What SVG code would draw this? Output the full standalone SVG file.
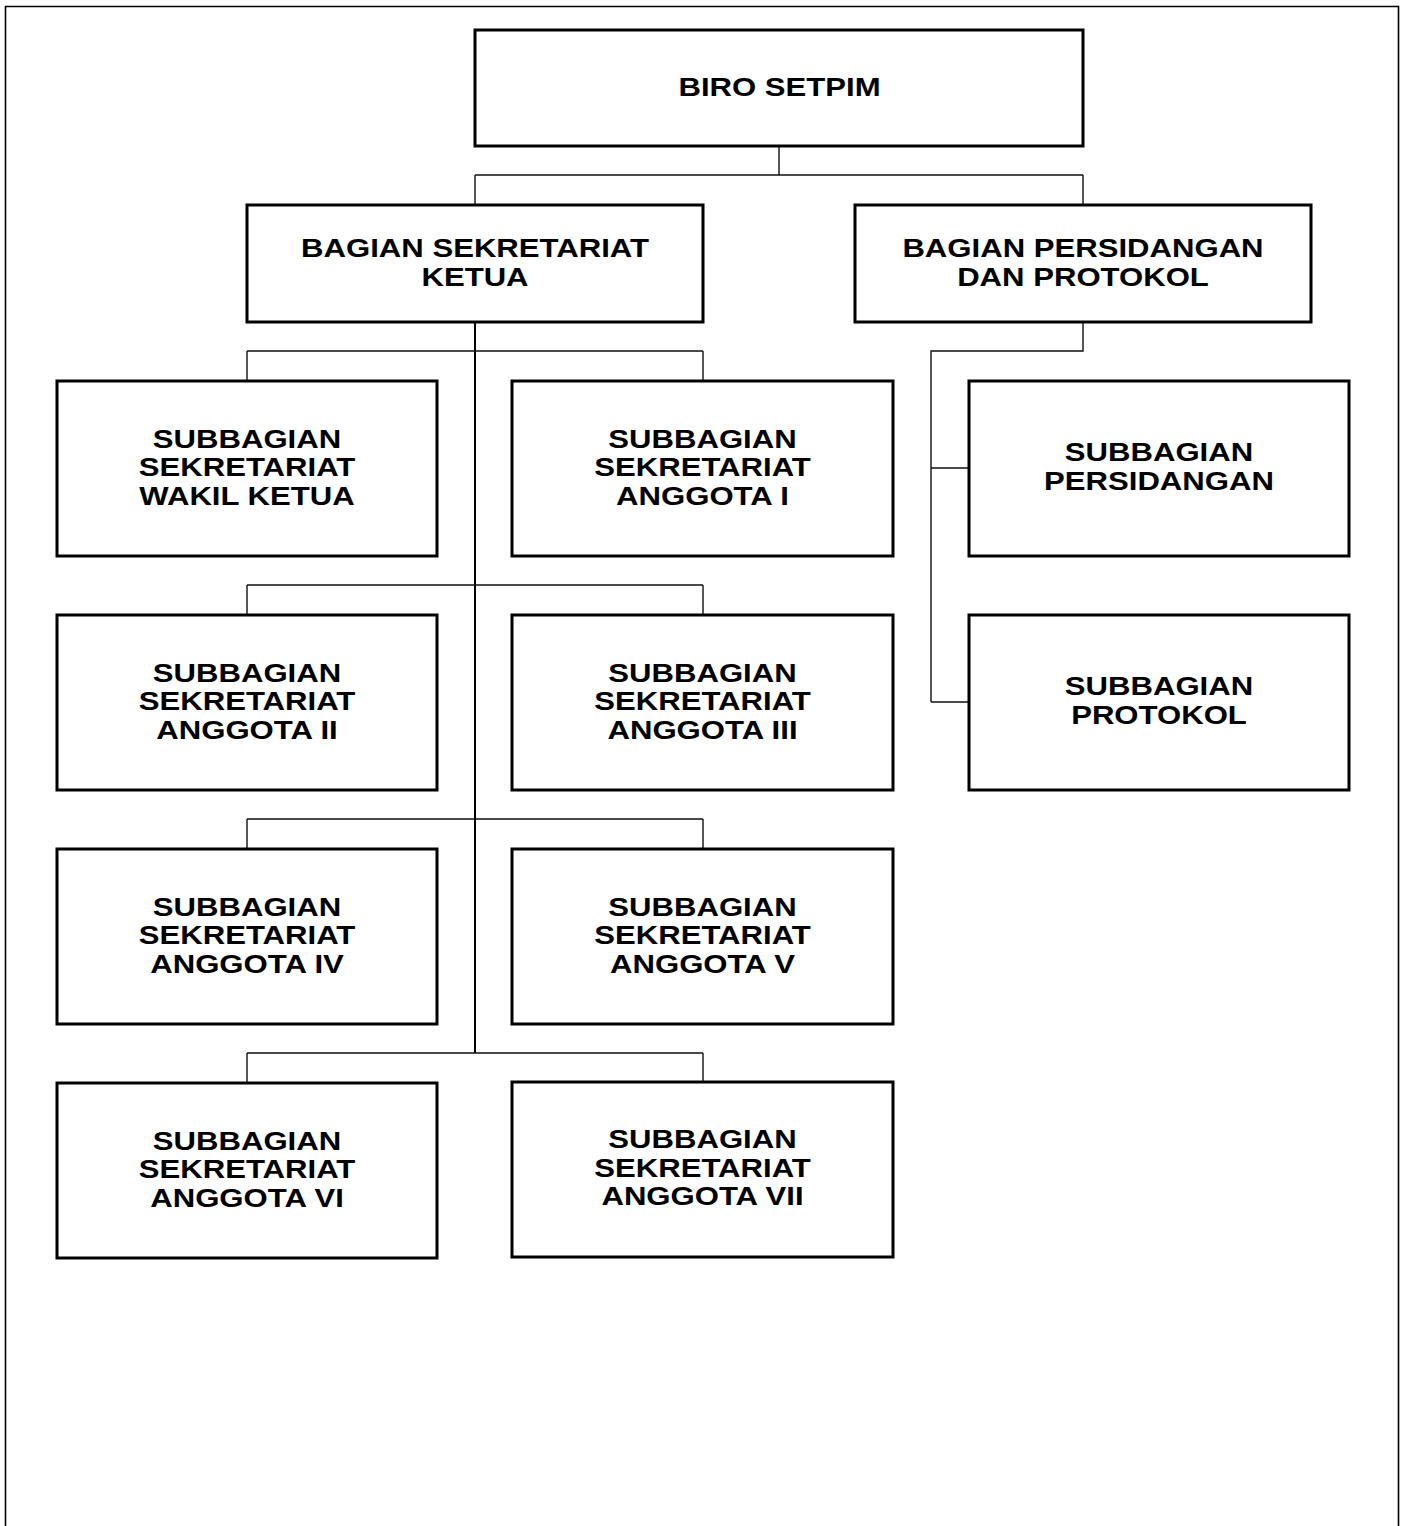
<svg xmlns="http://www.w3.org/2000/svg" width="1404" height="1526" viewBox="0 0 1404 1526">
<style>
.box{fill:#fff;stroke:#000;stroke-width:3}
.t{font-family:"Liberation Sans",Arial,sans-serif;font-weight:bold;font-size:25.5px;text-anchor:middle;fill:#000}
.c{fill:none;stroke:#111;stroke-width:1.4}
.spine{fill:none;stroke:#000;stroke-width:2}
</style>
<rect width="1404" height="1526" fill="#fff"/>
<path d="M5.5,1526 V6.5 H1398.5 V1526" fill="none" stroke="#000" stroke-width="1.6"/>
<g id="connectors">
<path class="c" d="M779,146 V175 M475,175 H1083 M475,175 V205 M1083,175 V205"/>
<path class="spine" d="M475,322 V1053"/>
<path class="c" d="M247,351 H703 M247,351 V381 M703,351 V381"/>
<path class="c" d="M247,585 H703 M247,585 V615 M703,585 V615"/>
<path class="c" d="M247,819 H703 M247,819 V849 M703,819 V849"/>
<path class="c" d="M247,1053 H703 M247,1053 V1083 M703,1053 V1083"/>
<path class="c" d="M1083,322 V351 H931 V702 M931,468 H969 M931,702 H969"/>
</g>
<g id="biro"><rect class="box" x="475" y="30" width="608" height="116"/><text class="t" transform="translate(779.5,95.5) scale(1.22,1)">BIRO SETPIM</text></g>
<g id="bagian-sekretariat"><rect class="box" x="247" y="205" width="456" height="117"/><text class="t" transform="translate(475,257) scale(1.22,1)">BAGIAN SEKRETARIAT<tspan x="0" dy="28.75">KETUA</tspan></text></g>
<g id="bagian-persidangan"><rect class="box" x="855" y="205" width="456" height="117"/><text class="t" transform="translate(1083,257) scale(1.22,1)">BAGIAN PERSIDANGAN<tspan x="0" dy="28.75">DAN PROTOKOL</tspan></text></g>
<g id="sub-wakil"><rect class="box" x="57" y="381" width="380" height="175"/><text class="t" transform="translate(247,447.5) scale(1.22,1)">SUBBAGIAN<tspan x="0" dy="28.75">SEKRETARIAT</tspan><tspan x="0" dy="28.75">WAKIL KETUA</tspan></text></g>
<g id="sub-anggota1"><rect class="box" x="512" y="381" width="381" height="175"/><text class="t" transform="translate(702.5,447.5) scale(1.22,1)">SUBBAGIAN<tspan x="0" dy="28.75">SEKRETARIAT</tspan><tspan x="0" dy="28.75">ANGGOTA I</tspan></text></g>
<g id="sub-persidangan"><rect class="box" x="969" y="381" width="380" height="175"/><text class="t" transform="translate(1159,461) scale(1.22,1)">SUBBAGIAN<tspan x="0" dy="28.75">PERSIDANGAN</tspan></text></g>
<g id="sub-anggota2"><rect class="box" x="57" y="615" width="380" height="175"/><text class="t" transform="translate(247,681.5) scale(1.22,1)">SUBBAGIAN<tspan x="0" dy="28.75">SEKRETARIAT</tspan><tspan x="0" dy="28.75">ANGGOTA II</tspan></text></g>
<g id="sub-anggota3"><rect class="box" x="512" y="615" width="381" height="175"/><text class="t" transform="translate(702.5,681.5) scale(1.22,1)">SUBBAGIAN<tspan x="0" dy="28.75">SEKRETARIAT</tspan><tspan x="0" dy="28.75">ANGGOTA III</tspan></text></g>
<g id="sub-protokol"><rect class="box" x="969" y="615" width="380" height="175"/><text class="t" transform="translate(1159,695) scale(1.22,1)">SUBBAGIAN<tspan x="0" dy="28.75">PROTOKOL</tspan></text></g>
<g id="sub-anggota4"><rect class="box" x="57" y="849" width="380" height="175"/><text class="t" transform="translate(247,915.5) scale(1.22,1)">SUBBAGIAN<tspan x="0" dy="28.75">SEKRETARIAT</tspan><tspan x="0" dy="28.75">ANGGOTA IV</tspan></text></g>
<g id="sub-anggota5"><rect class="box" x="512" y="849" width="381" height="175"/><text class="t" transform="translate(702.5,915.5) scale(1.22,1)">SUBBAGIAN<tspan x="0" dy="28.75">SEKRETARIAT</tspan><tspan x="0" dy="28.75">ANGGOTA V</tspan></text></g>
<g id="sub-anggota6"><rect class="box" x="57" y="1083" width="380" height="175"/><text class="t" transform="translate(247,1149.5) scale(1.22,1)">SUBBAGIAN<tspan x="0" dy="28.75">SEKRETARIAT</tspan><tspan x="0" dy="28.75">ANGGOTA VI</tspan></text></g>
<g id="sub-anggota7"><rect class="box" x="512" y="1082" width="381" height="175"/><text class="t" transform="translate(702.5,1148) scale(1.22,1)">SUBBAGIAN<tspan x="0" dy="28.75">SEKRETARIAT</tspan><tspan x="0" dy="28.75">ANGGOTA VII</tspan></text></g>
</svg>
